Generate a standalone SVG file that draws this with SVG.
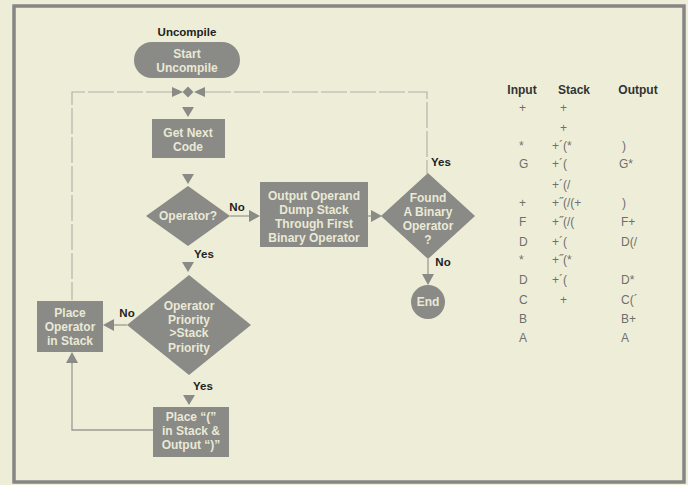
<svg xmlns="http://www.w3.org/2000/svg" width="688" height="485" viewBox="0 0 688 485">
<defs>
<style>
.shape{fill:#8a8a86;}
.nt{font-family:"Liberation Sans",Arial,sans-serif;font-weight:bold;font-size:12px;fill:#e9e9d6;text-anchor:middle;}
.lbl{font-family:"Liberation Sans",Arial,sans-serif;font-weight:bold;font-size:11.5px;fill:#222;text-anchor:middle;}
.th{font-family:"Liberation Sans",Arial,sans-serif;font-weight:bold;font-size:12px;fill:#333;text-anchor:middle;}
.td{font-family:"Liberation Sans",Arial,sans-serif;font-size:12px;fill:#6e6e6e;}
.ln{fill:none;stroke:#9a9a94;stroke-width:1.3;}
.dl{fill:none;stroke:#b0b0a6;stroke-width:1.1;stroke-dasharray:26 3;}
.ah{fill:#8a8a86;}
</style>
</defs>
<rect x="0" y="0" width="688" height="485" fill="#eeeed8"/>
<rect x="14" y="6" width="670" height="476" fill="none" stroke="#868686" stroke-width="3.5"/>

<text class="lbl" x="187" y="36" font-size="12">Uncompile</text>

<g id="connectors">
<polyline class="dl" points="172,92 72,92 72,300"/>
<polyline class="dl" points="205,92 427,92 427,174"/>
<polygon class="ah" points="172,87 183,92 172,97"/>
<polygon class="ah" points="205,87 194,92 205,97"/>
<polygon class="ah" points="188,86.5 193.5,92 188,97.5 182.5,92"/>
<polygon class="ah" points="182,107 194,107 188,117"/>
<polygon class="ah" points="182,174 194,174 188,184"/>
<line class="ln" x1="230" y1="216" x2="250" y2="216"/>
<polygon class="ah" points="249,210 260,216 249,222"/>
<line class="ln" x1="368" y1="216" x2="372" y2="216"/>
<polygon class="ah" points="371,210 382,216 371,222"/>
<line class="ln" x1="428" y1="259" x2="428" y2="276"/>
<polygon class="ah" points="422,274 434,274 428,285"/>
<polygon class="ah" points="182,262 194,262 188,272"/>
<line class="ln" x1="127" y1="325" x2="112" y2="325"/>
<polygon class="ah" points="114,319 103,325 114,331"/>
<polygon class="ah" points="183,395 195,395 189,405"/>
<polyline class="ln" points="153,430 72,430 72,362"/>
<polygon class="ah" points="66,363 72,352 78,363"/>
</g>

<g id="start">
<rect class="shape" x="134" y="42" width="106" height="36" rx="18"/>
<text class="nt" x="187" y="58">Start</text>
<text class="nt" x="187" y="72">Uncompile</text>
</g>

<g id="getnext">
<rect class="shape" x="152" y="119" width="73" height="39"/>
<text class="nt" x="188" y="137">Get Next</text>
<text class="nt" x="188" y="151">Code</text>
</g>

<g id="operator">
<polygon class="shape" points="188,186 230,216 188,246 146,216"/>
<text class="nt" x="188" y="220">Operator?</text>
</g>

<g id="output">
<rect class="shape" x="260" y="182" width="108" height="65"/>
<text class="nt" x="314" y="200">Output Operand</text>
<text class="nt" x="314" y="214">Dump Stack</text>
<text class="nt" x="314" y="228">Through First</text>
<text class="nt" x="314" y="242">Binary Operator</text>
</g>

<g id="found">
<polygon class="shape" points="428,173 475,216 428,259 381,216"/>
<text class="nt" x="428" y="202">Found</text>
<text class="nt" x="428" y="216">A Binary</text>
<text class="nt" x="428" y="230">Operator</text>
<text class="nt" x="428" y="244">?</text>
</g>

<g id="end">
<circle class="shape" cx="428" cy="302" r="17"/>
<text class="nt" x="428" y="306">End</text>
</g>

<g id="priority">
<polygon class="shape" points="189,275 251,325 189,375 127,325"/>
<text class="nt" x="189" y="310">Operator</text>
<text class="nt" x="189" y="324">Priority</text>
<text class="nt" x="189" y="337">&gt;Stack</text>
<text class="nt" x="189" y="352">Priority</text>
</g>

<g id="placeop">
<rect class="shape" x="37" y="301" width="66" height="51"/>
<text class="nt" x="70" y="317">Place</text>
<text class="nt" x="70" y="331">Operator</text>
<text class="nt" x="70" y="345">in Stack</text>
</g>

<g id="placeparen">
<rect class="shape" x="153" y="407" width="76" height="50"/>
<text class="nt" x="191" y="421">Place “(”</text>
<text class="nt" x="191" y="435">in Stack &amp;</text>
<text class="nt" x="191" y="449">Output “)”</text>
</g>

<g id="labels">
<text class="lbl" x="237" y="211">No</text>
<text class="lbl" x="441" y="166">Yes</text>
<text class="lbl" x="443" y="266">No</text>
<text class="lbl" x="204" y="258">Yes</text>
<text class="lbl" x="127" y="317">No</text>
<text class="lbl" x="203" y="390">Yes</text>
</g>

<g id="table">
<text class="th" x="522" y="94">Input</text>
<text class="th" x="574" y="94">Stack</text>
<text class="th" x="638" y="94">Output</text>
<g class="td">
<text x="519" y="112">+</text><text x="560" y="112">+</text>
<text x="560" y="132">+</text>
<text x="519" y="150">*</text><text x="552" y="150">+´(*</text><text x="622" y="150">)</text>
<text x="519" y="168">G</text><text x="552" y="168">+´(</text><text x="619" y="168">G*</text>
<text x="552" y="189">+´(/</text>
<text x="519" y="207">+</text><text x="552" y="207">+˝(/(+</text><text x="622" y="207">)</text>
<text x="519" y="226">F</text><text x="552" y="226">+˝(/(</text><text x="621" y="226">F+</text>
<text x="519" y="246">D</text><text x="552" y="246">+´(</text><text x="621" y="246">D(/</text>
<text x="519" y="264">*</text><text x="552" y="264">+˝(*</text>
<text x="519" y="284">D</text><text x="552" y="284">+´(</text><text x="621" y="284">D*</text>
<text x="519" y="304">C</text><text x="560" y="304">+</text><text x="621" y="304">C(´</text>
<text x="519" y="323">B</text><text x="621" y="323">B+</text>
<text x="519" y="342">A</text><text x="621" y="342">A</text>
</g>
</g>
</svg>
